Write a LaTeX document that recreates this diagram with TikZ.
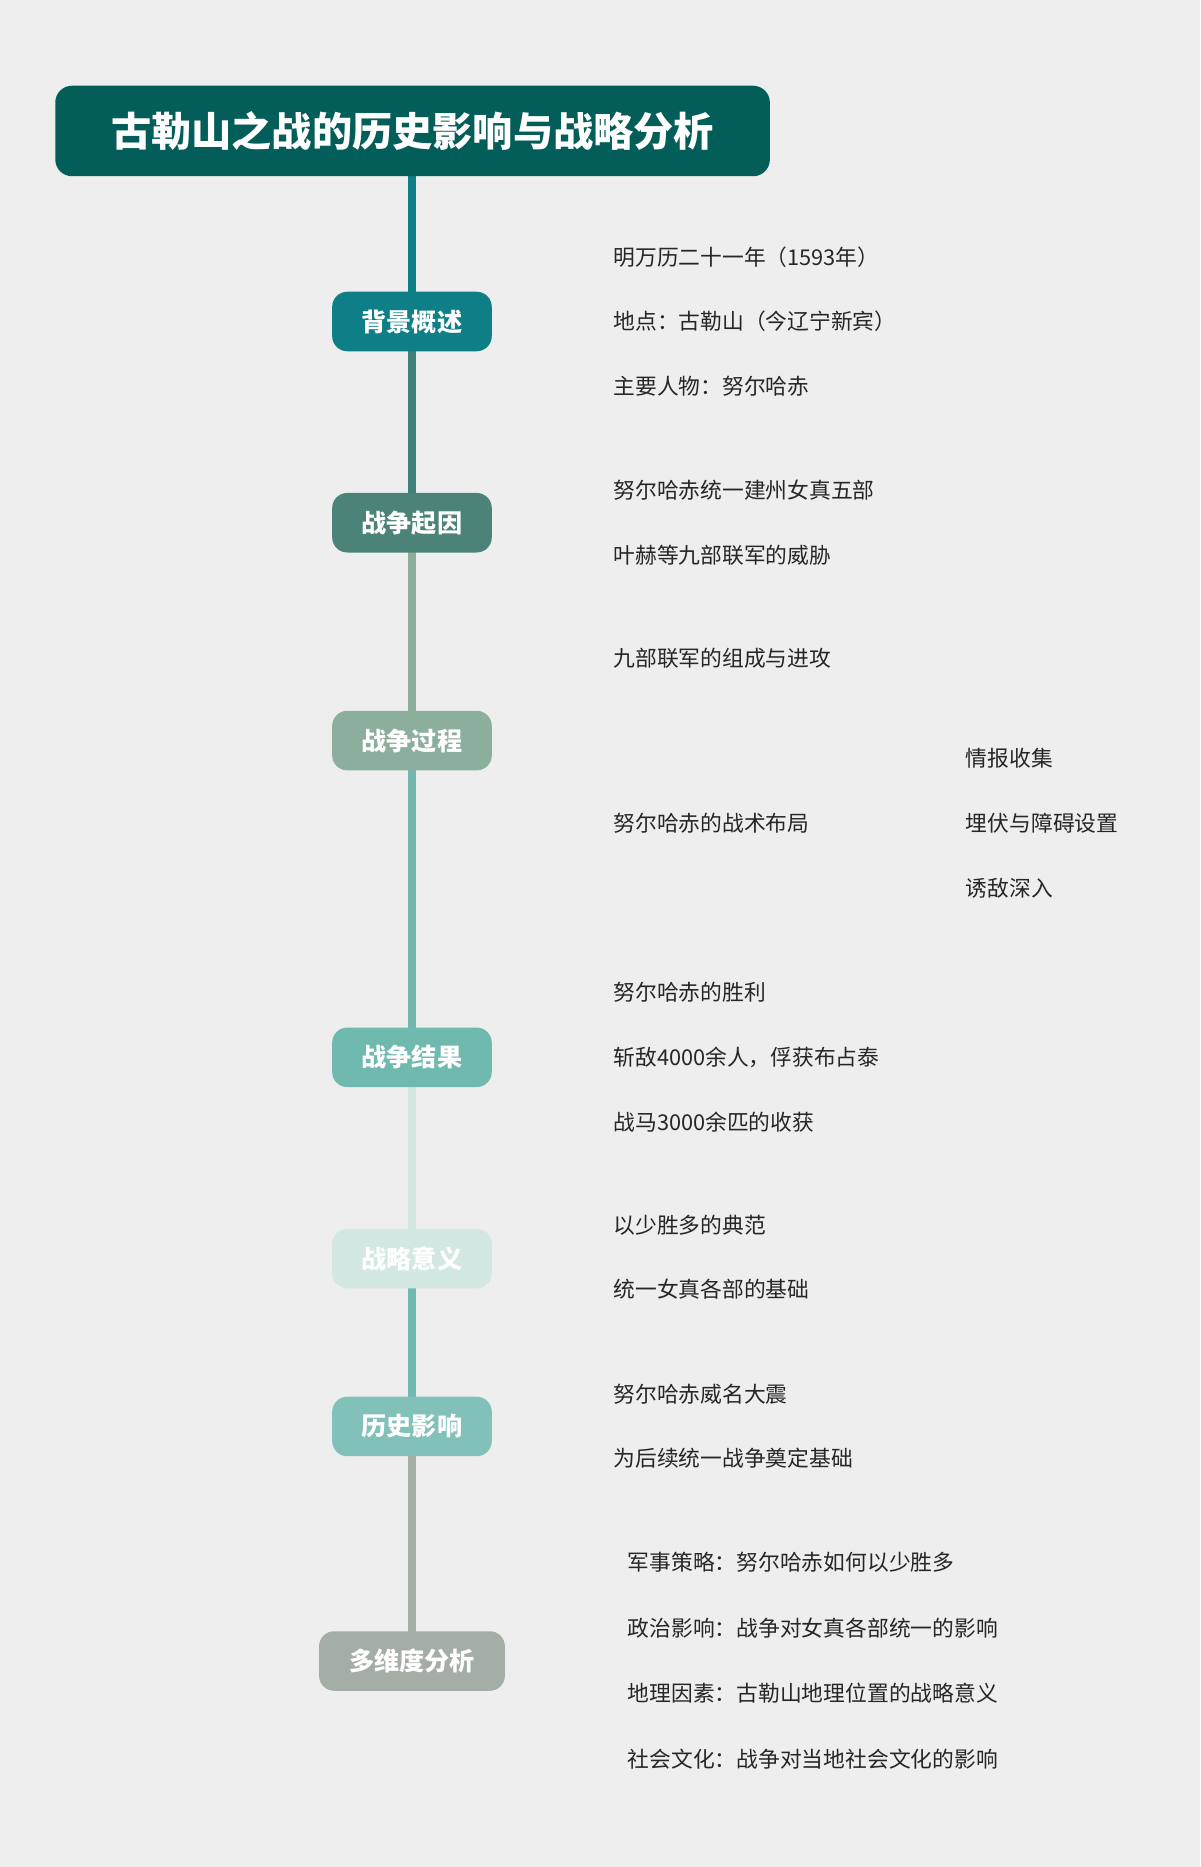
\documentclass[tikz,border=0pt]{standalone}
\usepackage{fontspec}
\setmainfont{Noto Sans CJK SC}
\begin{document}
\begin{tikzpicture}[x=0.025cm,y=-0.025cm,
  cat/.style={rounded corners=9pt,minimum height=1.25cm,text=white,font=\fontsize{15}{18}\selectfont\bfseries,inner sep=0pt},
  leaf/.style={anchor=west,inner sep=0pt,font=\fontsize{13}{16}\selectfont,text=black!85},
  br/.style={line width=1pt}]
\definecolor{bg}{HTML}{EEEEEE}
\definecolor{cT}{HTML}{035E5A}
\definecolor{c1}{HTML}{0E7F86}
\definecolor{c2}{HTML}{4B8378}
\definecolor{c3}{HTML}{8CAE9D}
\definecolor{c4}{HTML}{6FB9AF}
\definecolor{c5}{HTML}{D3E8E2}
\definecolor{c6}{HTML}{82C1BA}
\definecolor{c7}{HTML}{A4ADA6}
\fill[bg] (0,0) rectangle (1008,1568);
\useasboundingbox (0,0) rectangle (1008,1568);
% spine
\draw[line width=5pt,c1] (346,148) -- (346,270);
\draw[line width=5pt,c2!80!c1] (346,270) -- (346,439);
\draw[line width=5pt,c3] (346,439) -- (346,622);
\draw[line width=5pt,c4!85!c3] (346,622) -- (346,888);
\draw[line width=5pt,c5] (346,888) -- (346,1057);
\draw[line width=5pt,c4] (346,1057) -- (346,1198);
\draw[line width=5pt,c7] (346,1198) -- (346,1395);
\node[fill=cT,rounded corners=10pt,minimum width=15cm,minimum height=1.9cm,text=white,font=\fontsize{24}{28}\selectfont\bfseries] (title) at (346.5,110) {古勒山之战的历史影响与战略分析};
\node[cat,fill=c1,minimum width=3.35cm] (n1) at (346,270) {背景概述};
\node[cat,fill=c2,minimum width=3.35cm] (n2) at (346,439) {战争起因};
\node[cat,fill=c3,minimum width=3.35cm] (n3) at (346,622) {战争过程};
\node[cat,fill=c4,minimum width=3.35cm] (n4) at (346,888) {战争结果};
\node[cat,fill=c5,minimum width=3.35cm] (n5) at (346,1057) {战略意义};
\node[cat,fill=c6,minimum width=3.35cm] (n6) at (346,1198) {历史影响};
\node[cat,fill=c7,minimum width=3.9cm] (n7) at (346,1395) {多维度分析};
% leaves
\node[leaf] (a1) at (515,216) {明万历二十一年（1593年）};
\node[leaf] (a2) at (515,270) {地点：古勒山（今辽宁新宾）};
\node[leaf] (a3) at (515,324) {主要人物：努尔哈赤};
\node[leaf] (b1) at (515,412) {努尔哈赤统一建州女真五部};
\node[leaf] (b2) at (515,466) {叶赫等九部联军的威胁};
\node[leaf] (c1n) at (515,553) {九部联军的组成与进攻};
\node[leaf] (c2n) at (515,691) {努尔哈赤的战术布局};
\node[leaf] (d1) at (811,637) {情报收集};
\node[leaf] (d2) at (811,691) {埋伏与障碍设置};
\node[leaf] (d3) at (811,746) {诱敌深入};
\node[leaf] (e1) at (515,833) {努尔哈赤的胜利};
\node[leaf] (e2) at (515,888) {斩敌4000余人，俘获布占泰};
\node[leaf] (e3) at (515,942) {战马3000余匹的收获};
\node[leaf] (f1) at (515,1029) {以少胜多的典范};
\node[leaf] (f2) at (515,1083) {统一女真各部的基础};
\node[leaf] (g1) at (515,1171) {努尔哈赤威名大震};
\node[leaf] (g2) at (515,1225) {为后续统一战争奠定基础};
\node[leaf] (h1) at (527,1312) {军事策略：努尔哈赤如何以少胜多};
\node[leaf] (h2) at (527,1367) {政治影响：战争对女真各部统一的影响};
\node[leaf] (h3) at (527,1422) {地理因素：古勒山地理位置的战略意义};
\node[leaf] (h4) at (527,1477) {社会文化：战争对当地社会文化的影响};
% branches
\foreach \n/\c in {a1/c1,a2/c1,a3/c1,b1/c2,b2/c2,c1n/c3,c2n/c3,e1/c4,e2/c4,e3/c4,f1/c5,f2/c5,g1/c6,g2/c6}{
  \pgfmathsetmacro{\dummy}{0}
}
\newcommand{\brn}[3]{\draw[br,#3] (#1.east) -- ++(15,0) .. controls +(45,0) and ($(#2.west)+(-50,0)$) .. ($(#2.west)+(-8,0)$);}
\newcommand{\brm}[3]{\draw[br,#3] (#1.east) -- ++(15,0) .. controls +(45,0) and ($(#2.west)+(-50,0)$) .. ($(#2.west)+(-6,0)$);}
\end{tikzpicture}
\end{document}
